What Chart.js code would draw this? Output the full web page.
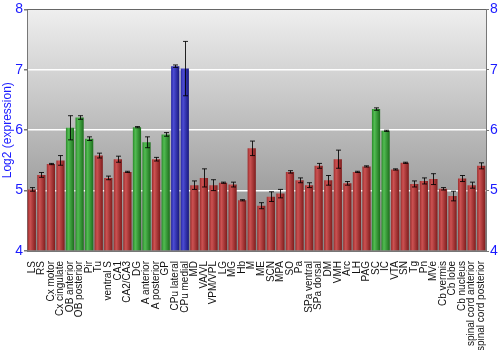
<!DOCTYPE html>
<html>
<head>
<meta charset="utf-8">
<script src="https://cdn.jsdelivr.net/npm/chart.js@4"></script>
<style>
  html, body { margin: 0; padding: 0; background: #ffffff; }
  #wrap { width: 500px; height: 350px; }
</style>
</head>
<body>
<div id="wrap"><canvas id="exprChart"></canvas></div>
<script>
// data
const regions = [
  "LS", "RS", "Cx motor", "Cx cingulate", "OB anterior", "OB posterior", "Pir", "Tu",
  "ventral S", "CA1", "CA2/CA3", "DG", "A anterior", "A posterior", "GP", "CPu lateral",
  "CPu medial", "MD", "VA/VL", "VPM/VPL", "LG", "MG", "Hb", "M", "ME", "SCN", "MPA",
  "SO", "Pa", "SPa ventral", "SPa dorsal", "DM", "VMH", "Arc", "LH", "PAG", "SC", "IC",
  "VTA", "SN", "Tg", "Pn", "MVe", "Cb vermis", "Cb lobe", "Cb nucleus",
  "spinal cord anterior", "spinal cord posterior"
];
const expression = [
  5.02, 5.26, 5.44, 5.50, 6.04, 6.21, 5.86, 5.58,
  5.21, 5.52, 5.31, 6.05, 5.80, 5.52, 5.93, 7.06,
  7.02, 5.09, 5.21, 5.09, 5.13, 5.10, 4.84, 5.70, 4.75, 4.90, 4.95,
  5.31, 5.17, 5.09, 5.41, 5.17, 5.52, 5.12, 5.31, 5.40, 6.35, 5.99,
  5.35, 5.46, 5.11, 5.16, 5.19, 5.03, 4.91, 5.20,
  5.09, 5.41
];
const errors = [
  0.03, 0.04, 0.01, 0.08, 0.20, 0.03, 0.03, 0.04,
  0.03, 0.05, 0.01, 0.01, 0.09, 0.03, 0.03, 0.02,
  0.45, 0.07, 0.15, 0.09, 0.01, 0.04, 0.01, 0.12, 0.05, 0.08, 0.07,
  0.02, 0.04, 0.04, 0.04, 0.08, 0.15, 0.03, 0.01, 0.01, 0.02, 0.01,
  0.01, 0.01, 0.05, 0.05, 0.09, 0.02, 0.08, 0.05,
  0.05, 0.05
];
// colour group per bar: r = red, g = green, b = blue
const groups = [
  "r", "r", "r", "r", "g", "g", "g", "r",
  "r", "r", "r", "g", "g", "r", "g", "b",
  "b", "r", "r", "r", "r", "r", "r", "r", "r", "r", "r",
  "r", "r", "r", "r", "r", "r", "r", "r", "r", "g", "g",
  "r", "r", "r", "r", "r", "r", "r", "r",
  "r", "r"
];
const yTicks = [4, 5, 6, 7, 8];

const palette = {
  r: ["#9c2c2c", "#cc5252", "#7e1c1c"],
  g: ["#2a882a", "#52bc52", "#1c6e1c"],
  b: ["#2626a0", "#4c4cd4", "#18187e"],
};

function barGradient(ctx) {
  const chart = ctx.chart;
  const a = chart.chartArea;
  const i = ctx.dataIndex;
  if (i === undefined) return palette.r[1];
  const cols = palette[groups[i]];
  if (!a || !isFinite(a.left) || !isFinite(a.right) || a.right <= a.left) return cols[1];
  const step = (a.right - a.left) / regions.length;
  const cx = a.left + (i + 0.5) * step;
  const half = step * 0.43;
  const g = chart.ctx.createLinearGradient(cx - half, 0, cx + half, 0);
  g.addColorStop(0, cols[0]);
  g.addColorStop(0.3, cols[1]);
  g.addColorStop(1, cols[2]);
  return g;
}

// gray gradient behind the plot, plus the frame on top
const plotBackground = {
  id: "plotBackground",
  beforeDraw(chart) {
    const { ctx, chartArea: a } = chart;
    const g = ctx.createLinearGradient(0, a.top, 0, a.bottom);
    g.addColorStop(0, "#efefef");
    g.addColorStop(1, "#858585");
    ctx.save();
    ctx.fillStyle = g;
    ctx.fillRect(a.left, a.top, a.right - a.left, a.bottom - a.top);
    ctx.restore();
  },
  afterDraw(chart) {
    const { ctx, chartArea: a } = chart;
    ctx.save();
    ctx.strokeStyle = "#666666";
    ctx.lineWidth = 1;
    ctx.beginPath();
    ctx.moveTo(a.left, Math.round(a.top) + 0.5);
    ctx.lineTo(a.right, Math.round(a.top) + 0.5);
    ctx.stroke();
    ctx.restore();
  },
};

// error bars with caps
const errorBars = {
  id: "errorBars",
  afterDatasetsDraw(chart) {
    const { ctx } = chart;
    const x = chart.scales.x;
    const y = chart.scales.y;
    ctx.save();
    ctx.strokeStyle = "rgba(0,0,0,0.85)";
    ctx.lineWidth = 1;
    expression.forEach((v, i) => {
      const cx = Math.round(x.getPixelForValue(i)) + 0.5;
      const top = y.getPixelForValue(v + errors[i]);
      const bot = y.getPixelForValue(v - errors[i]);
      ctx.beginPath();
      ctx.moveTo(cx, top);
      ctx.lineTo(cx, bot);
      ctx.moveTo(cx - 2.5, top);
      ctx.lineTo(cx + 2.5, top);
      ctx.moveTo(cx - 2.5, bot);
      ctx.lineTo(cx + 2.5, bot);
      ctx.stroke();
    });
    ctx.restore();
  },
};

const tickFont = { family: "'Liberation Sans', Arial, sans-serif", size: 14 };

const ctxExpr = document.getElementById("exprChart").getContext("2d");
let exprChart = new Chart(ctxExpr, {
  type: "bar",
  data: {
    labels: regions,
    datasets: [
      {
        label: "Log2 (expression)",
        data: expression,
        backgroundColor: barGradient,
        borderWidth: 0,
        barPercentage: 0.86,
        categoryPercentage: 1.0,
        base: 4,
      },
    ],
  },
  options: {
    responsive: true,
    maintainAspectRatio: false,
    animation: false,
    layout: { padding: { top: 9, left: 0, right: 0, bottom: 0 } },
    plugins: {
      legend: { display: false },
      tooltip: { enabled: false },
    },
    scales: {
      x: {
        grid: { display: false },
        border: { color: "#777777" },
        ticks: {
          autoSkip: false,
          maxRotation: 90,
          minRotation: 90,
          padding: 2,
          color: "#111111",
          font: { family: "'Liberation Sans', Arial, sans-serif", size: 10 },
        },
        afterFit(scale) { scale.height = 99; },
      },
      y: {
        min: 4,
        max: 8,
        afterBuildTicks(scale) { scale.ticks = yTicks.map((v) => ({ value: v })); },
        title: {
          display: true,
          text: "Log2 (expression)",
          color: "#1a1aff",
          font: { family: "'Liberation Sans', Arial, sans-serif", size: 12 },
          padding: 0,
        },
        ticks: { color: "#1a1aff", font: tickFont, padding: 1 },
        grid: {
          color: (c) => (c.tick && (c.tick.value === 4 || c.tick.value === 8) ? "transparent" : "#ffffff"),
          lineWidth: 1.5,
          tickLength: 3,
          tickColor: "#777777",
        },
        border: { color: "#777777" },
        afterFit(scale) { scale.width = 27; },
      },
      y2: {
        position: "right",
        min: 4,
        max: 8,
        afterBuildTicks(scale) { scale.ticks = yTicks.map((v) => ({ value: v })); },
        ticks: { color: "#1a1aff", font: tickFont, padding: 1 },
        grid: { drawOnChartArea: false, tickLength: 3, tickColor: "#777777" },
        border: { color: "#777777" },
        afterFit(scale) { scale.width = 14; },
      },
    },
  },
  plugins: [plotBackground, errorBars],
});
</script>
</body>
</html>
